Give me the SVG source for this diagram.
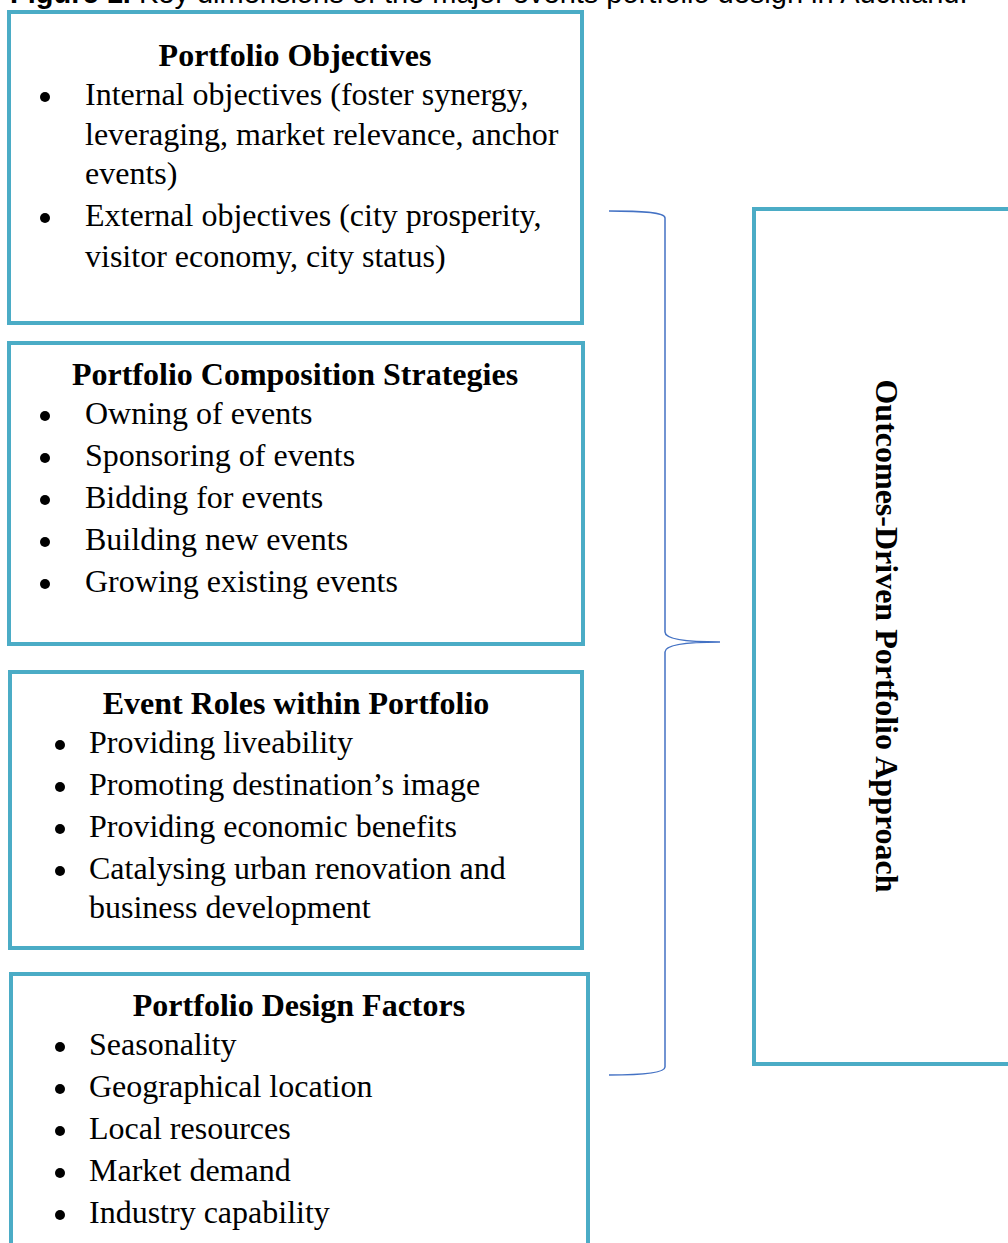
<svg xmlns="http://www.w3.org/2000/svg" width="1008" height="1243" viewBox="0 0 1008 1243">
<style>
.box{fill:#fff;stroke:#4BACC6;stroke-width:4}
.t{font-family:"Liberation Serif","Times New Roman",serif;font-size:32px;fill:#000}
.h{font-weight:bold;text-anchor:middle}
.cap{font-family:"Liberation Sans",Arial,sans-serif;font-size:29px;fill:#000}
.br{fill:none;stroke:#4472C4;stroke-width:1.5}
</style>
<rect width="1008" height="1243" fill="#fff"/>
<text class="cap" x="10" y="3"><tspan font-weight="bold">Figure 1.</tspan> Key dimensions of the major events portfolio design in Auckland.</text>
<g id="objectives">
<rect class="box" x="9" y="12" width="573" height="311"/>
<text class="t h" x="295" y="66">Portfolio Objectives</text>
<circle cx="45" cy="97" r="5"/>
<text class="t" x="85" y="105">Internal objectives (foster synergy,</text>
<text class="t" x="85" y="145">leveraging, market relevance, anchor</text>
<text class="t" x="85" y="184">events)</text>
<circle cx="45" cy="218" r="5"/>
<text class="t" x="85" y="226">External objectives (city prosperity,</text>
<text class="t" x="85" y="267">visitor economy, city status)</text>
</g>
<g id="composition">
<rect class="box" x="9" y="343" width="574" height="301"/>
<text class="t h" x="295" y="385">Portfolio Composition Strategies</text>
<circle cx="45" cy="416" r="5"/>
<text class="t" x="85" y="424">Owning of events</text>
<circle cx="45" cy="458" r="5"/>
<text class="t" x="85" y="466">Sponsoring of events</text>
<circle cx="45" cy="500" r="5"/>
<text class="t" x="85" y="508">Bidding for events</text>
<circle cx="45" cy="542" r="5"/>
<text class="t" x="85" y="550">Building new events</text>
<circle cx="45" cy="584" r="5"/>
<text class="t" x="85" y="592">Growing existing events</text>
</g>
<g id="roles">
<rect class="box" x="10" y="672" width="572" height="276"/>
<text class="t h" x="296" y="714">Event Roles within Portfolio</text>
<circle cx="60" cy="745" r="5"/>
<text class="t" x="89" y="753">Providing liveability</text>
<circle cx="60" cy="787" r="5"/>
<text class="t" x="89" y="795">Promoting destination’s image</text>
<circle cx="60" cy="829" r="5"/>
<text class="t" x="89" y="837">Providing economic benefits</text>
<circle cx="60" cy="871" r="5"/>
<text class="t" x="89" y="879">Catalysing urban renovation and</text>
<text class="t" x="89" y="918">business development</text>
</g>
<g id="factors">
<rect class="box" x="11" y="974" width="577" height="290"/>
<text class="t h" x="299" y="1016">Portfolio Design Factors</text>
<circle cx="60" cy="1047" r="5"/>
<text class="t" x="89" y="1055">Seasonality</text>
<circle cx="60" cy="1089" r="5"/>
<text class="t" x="89" y="1097">Geographical location</text>
<circle cx="60" cy="1131" r="5"/>
<text class="t" x="89" y="1139">Local resources</text>
<circle cx="60" cy="1173" r="5"/>
<text class="t" x="89" y="1181">Market demand</text>
<circle cx="60" cy="1215" r="5"/>
<text class="t" x="89" y="1223">Industry capability</text>
</g>
<g id="outcomes">
<rect class="box" x="754" y="209" width="280" height="855"/>
<text class="t h" transform="translate(876,636) rotate(90)" x="0" y="0">Outcomes-Driven Portfolio Approach</text>
</g>
<g id="connectors">
<path class="br" d="M609,211 C640,211 665,212 665,218 L665,632 C665,640 690,642 720,642 C690,642 665,644 665,652 L665,1067 C665,1073 640,1075 609,1075"/>
</g>
</svg>
